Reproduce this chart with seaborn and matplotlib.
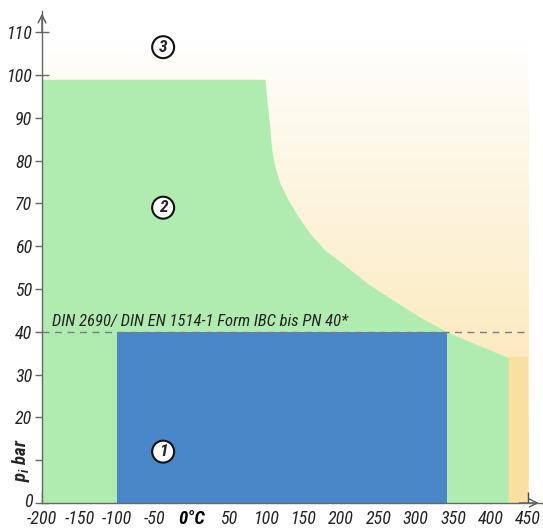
import numpy as np
import matplotlib
matplotlib.use("Agg")
import matplotlib.pyplot as plt
from matplotlib import font_manager
import matplotlib.transforms as mtransforms
import seaborn as sns
import pandas as pd

# ---- data ----
green_T = [-200, 98.1, 99.5, 101.2, 104.8, 107.1, 111.5, 118.2, 129.3, 142.6, 158.3,
           178.3, 207.4, 236, 269.3, 305, 341, 423, 423]
green_p = [99, 99, 96.5, 93.4, 87.5, 82.5, 78.6, 74.7, 70.8, 66.9, 63.0,
           59.1, 55.2, 51.2, 47.4, 43.5, 40, 34, 0]
blue_T = [-100, 341]
blue_p = [0, 40]
din_T = [-200, 450]
din_p = [40, 40]
x_ticks = [-200, -150, -100, -50, 0, 50, 100, 150, 200, 250, 300, 350, 400, 450]
x_labels = ["-200", "-150", "-100", "-50", "0°C", "50", "100", "150", "200", "250", "300", "350", "400", "450"]
y_ticks = [0, 10, 20, 30, 40, 50, 60, 70, 80, 90, 100, 110]
y_labels = ["0", "", "20", "30", "40", "50", "60", "70", "80", "90", "100", "110"]
zone_labels = ["1", "2", "3"]
zone_T = [-38, -38, -38]
zone_p = [12, 69, 106.5]
din_text = "DIN 2690/ DIN EN 1514-1 Form IBC bis PN 40*"

sns.set_theme(style="white")
avail = {f.name for f in font_manager.fontManager.ttflist}
if "Liberation Sans Narrow" in avail:
    main = "Liberation Sans Narrow"; tick_fs = 12.5; din_fs = 12.3
elif "Roboto Condensed" in avail:
    main = "Roboto Condensed"; tick_fs = 13; din_fs = 12
else:
    main = "Liberation Sans"; tick_fs = 11; din_fs = 10.3
FAM = [main, "DejaVu Sans"]
plt.rcParams["font.family"] = FAM
plt.rcParams["mathtext.fontset"] = "custom"
plt.rcParams["mathtext.it"] = main + ":bold:italic"
plt.rcParams["mathtext.rm"] = main + ":bold:italic"

fig = plt.figure(figsize=(5.43, 5.28), dpi=100)
ax = fig.add_axes([42 / 543, 25 / 528, 0.920, 115 * 4.28 / 528])
ax.set_xlim(-200, 468)
ax.set_ylim(0, 115)

# yellow background gradient (white on top -> pale yellow at bottom)
top = np.array([1.0, 1.0, 1.0])
bot = np.array([0xFB, 0xE5, 0xAE]) / 255
yy = np.linspace(0, 115, 256)
frac = np.clip((108 - yy) / 100, 0, 1) ** 0.9
img = top[None, None, :] * (1 - frac[:, None, None]) + bot[None, None, :] * frac[:, None, None]
ax.imshow(img, extent=[-200, 450, 0, 115], origin="lower", aspect="auto", zorder=0)
# more saturated strip near the right
ax.fill_between([423, 450], 0, 34, color="#F9DFA0", zorder=0.5, lw=0)

# green region
ax.fill_between(green_T, 0, green_p, color="#B0ECB0", lw=0, zorder=1)
# blue region
ax.fill_between(blue_T, blue_p[0], blue_p[1], color="#4A87C9", lw=0, zorder=2)

# DIN dashed line
df = pd.DataFrame({"T": din_T, "p": din_p})
sns.lineplot(data=df, x="T", y="p", ax=ax, color="#7a7a8a", lw=1.0,
             linestyle=(0, (5, 4)), zorder=3)
ax.text(-187, 41.4, din_text, fontsize=din_fs, style="italic", color="#222222",
        family=FAM, zorder=5)

for lab, t, p in zip(zone_labels, zone_T, zone_p):
    ax.text(t, p, lab, fontsize=12.5, weight="bold", style="italic", ha="center",
            va="center", family=FAM, zorder=6,
            bbox=dict(boxstyle="circle,pad=0.2", fc="white", ec="#111111", lw=1.5))

# axes styling
for s in ["top", "right"]:
    ax.spines[s].set_visible(False)
for s in ["left", "bottom"]:
    ax.spines[s].set_color("#666666")
    ax.spines[s].set_linewidth(1.0)
ax.spines["left"].set_zorder(4)
ax.spines["bottom"].set_zorder(4)

ax.set_xticks(x_ticks)
ax.set_xticklabels(x_labels)
ax.set_yticks(y_ticks)
ax.set_yticklabels(y_labels)
ax.tick_params(axis="x", direction="in", length=8, width=1, color="#444466",
               labelsize=tick_fs, pad=5, bottom=True)
ax.tick_params(axis="y", direction="inout", length=10, width=1, color="#666666",
               labelsize=tick_fs, pad=2, left=True)
for lab in ax.get_xticklabels() + ax.get_yticklabels():
    lab.set_style("italic")
    lab.set_color("#222222")
for lab in ax.get_xticklabels():
    if lab.get_text() == "0°C":
        lab.set_weight("heavy")
        lab.set_color("#000000")
        lab.set_fontsize(tick_fs + 0.5)
xt = ax.xaxis.get_major_ticks()
xt[4].tick1line.set_color("#000000")
xt[4].tick1line.set_markeredgewidth(2)
# nudge the "0" y label up a little so it clears the x labels
ylab0 = ax.yaxis.get_major_ticks()[0].label1
ylab0.set_transform(ylab0.get_transform() +
                    mtransforms.ScaledTranslation(0, 3 / 100, fig.dpi_scale_trans))

ax.set_xlabel("")
ax.set_ylabel("")
ax.text(-228, 10, r"$p_i$ bar", rotation=90, fontsize=tick_fs + 0.5, weight="bold",
        style="italic", ha="center", va="center", family=FAM)

# arrows
ax.annotate("", xy=(1.0, 0), xytext=(0.95, 0), xycoords="axes fraction",
            arrowprops=dict(arrowstyle="->", color="#555555", lw=1.0,
                            mutation_scale=14), annotation_clip=False)
ax.annotate("", xy=(0, 1.0), xytext=(0, 0.95), xycoords="axes fraction",
            arrowprops=dict(arrowstyle="->", color="#555555", lw=1.0,
                            mutation_scale=14), annotation_clip=False)

fig.savefig("out.png", dpi=100)
